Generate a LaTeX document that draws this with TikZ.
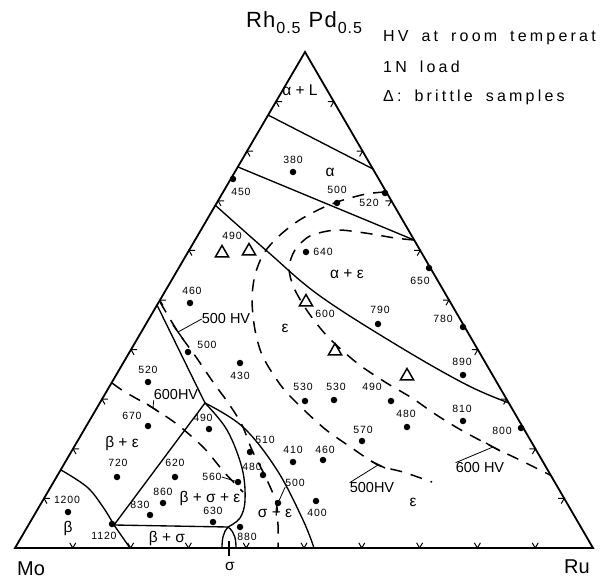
\documentclass[tikz,border=0pt]{standalone}
\usepackage{fontspec}
\setmainfont{Liberation Sans}
\newfontfamily\legendfont[LetterSpace=20, WordSpace=1.7]{Liberation Sans}
\newfontfamily\numfont[LetterSpace=8]{Liberation Sans}
\newfontfamily\cornerfont[LetterSpace=6]{Liberation Sans}
\usetikzlibrary{calc}
\usetikzlibrary{shapes.geometric}

\begin{document}
\begin{tikzpicture}[x=1pt, y=-1pt,
    corner/.style={font=\fontsize{20}{20}\selectfont, inner sep=0pt},
    legend/.style={font=\legendfont\fontsize{16}{16}\selectfont, inner sep=0pt, anchor=west},
    phase/.style={font=\fontsize{15.5}{15.5}\selectfont, inner sep=0pt},
    hv/.style={font=\numfont\fontsize{10.5}{10.5}\selectfont, inner sep=0pt},
    hvlabel/.style={font=\fontsize{14.5}{14.5}\selectfont, inner sep=0pt},
    pt/.style={circle, fill, inner sep=0pt, minimum size=6.5pt},
    brittle/.style={draw, regular polygon, regular polygon sides=3, inner sep=0pt, minimum size=15pt, line width=1.5pt},
    bound/.style={line width=1.35pt},
    iso/.style={line width=1.5pt, dash pattern=on 12pt off 9pt},
    tickmark/.style={line width=1pt}]
    \useasboundingbox (0,0) rectangle (607,580);

    \coordinate (Mo) at (15,548);
    \coordinate (Ru) at (593,548);
    \coordinate (RP) at (305,52);
    \draw[line width=1.8pt] (Mo) -- (Ru) -- (RP) -- cycle;
    \foreach \i in {1,...,9} {
        \coordinate (tb) at ($(Mo)!\i/10!(Ru)$);
        \coordinate (tl) at ($(Mo)!\i/10!(RP)$);
        \coordinate (tr) at ($(Ru)!\i/10!(RP)$);
        \draw[tickmark] (tb) ++(-120:6) -- (tb) -- ++(-60:6);
        \draw[tickmark] (tl) ++(0:6) -- (tl) -- ++(60:6);
        \draw[tickmark] (tr) ++(180:6) -- (tr) -- ++(120:6);
    }

    \node[corner] (mo) at (31,569) {Mo};
    \node[corner] (ru) at (577,567) {Ru};
    \node[corner, font=\cornerfont\fontsize{22}{22}\selectfont] (rp) at (304,23)
        {Rh\hspace{1pt}\raisebox{-6pt}{\fontsize{16}{16}\selectfont 0.5}\hspace{8pt}Pd\hspace{1pt}\raisebox{-6pt}{\fontsize{16}{16}\selectfont 0.5}};

    \node[legend] (leg1) at (383,38) {HV at room temperat};
    \node[legend] (leg2) at (383,67) {1N load};
    \node[legend] (leg3) at (383,97) {Δ: brittle samples};

    % phase boundaries
    \draw[bound] (268,115) -- (373,169);
    \draw[bound] (238,167) -- (414,240);
    \draw[bound] plot[smooth, tension=0.6] coordinates {(215,205) (268,252) (320,296) (400,347) (467,385) (509,403)};
    \coordinate (tp) at (205,403);
    \coordinate (bl) at (114,525);
    \coordinate (br) at (228,527);
    \draw[bound] (157,305) -- (tp) -- (bl) -- (br);
    \draw[bound] plot[smooth, tension=0.6] coordinates {(tp) (227,430) (242,468) (245,500) (240,518) (br)};
    \draw[bound] plot[smooth, tension=0.6] coordinates {(tp) (243,427) (277,470) (303,520) (314,548)};
    \draw[bound] plot[smooth, tension=0.6] coordinates {(61,470) (87,487) (103,507) (bl)};
    \draw[bound] (bl) -- (130,548);
    \draw[bound] (br) .. controls (223,532) and (222,540) .. (222,548);
    \draw[bound] (br) .. controls (235,532) and (236,540) .. (236,548);
    \draw[bound] (229,541) -- (229,556);

    % iso-hardness lines
    \draw[iso] plot[smooth] coordinates {(160,302) (178,332) (196,357) (213,382) (229,404) (242,425) (252,450) (266,478) (276,502) (278,525) (278,548)};
    \draw[iso] plot[smooth] coordinates {(112,383) (125,392) (153,408) (178,425) (204,448) (224,472) (243,492)};
    \draw[iso] plot[smooth] coordinates {(385,192) (366,194) (340,201) (320,209) (298,221) (279,236) (264,253) (255,275) (252,300) (255,330) (263,357) (282,387) (302,408) (325,429) (349,446) (378,465) (403,472) (432,482)};
    \draw[iso] plot[smooth] coordinates {(414,240) (395,238) (365,233) (336,230) (310,236) (295,250) (289,268) (294,288) (308,312) (328,337) (357,363) (385,382) (412,398) (435,414) (461,430) (493,447) (524,462) (550,475)};

    \node[hvlabel] (hvA) at (226,319) {500 HV};
    \node[hvlabel] (hvB) at (176,395) {600HV};
    \node[hvlabel] (hvC) at (372,488) {500HV};
    \node[hvlabel] (hvD) at (480,468) {600 HV};
    \coordinate (kA) at (178,332);
    \coordinate (kB) at (153,408);
    \coordinate (kC) at (378,465);
    \coordinate (kD) at (493,447);
    \draw[bound] (173,325) -- (183,339);
    \draw[bound] (147,404) -- (159,412);
    \draw[bound] (371,461) -- (385,468);
    \draw[bound] (486,443) -- (500,451);
    \draw[line width=0.8pt] (kA) -- (hvA.west);
    \draw[line width=0.8pt] (kB) -- (hvB.south west);
    \draw[line width=0.8pt] (kC) -- (hvC.north west);
    \draw[line width=0.8pt] (kD) -- (hvD.north west);

    % measured points
    \foreach \dx/\dy/\lx/\ly/\v [count=\k] in {293/172/293/160/380, 233/179/241/192/450,
        337/203/337/190/500, 385/193/369/203/520, 306/252/323/252/640, 429/268/420/281/650,
        190/303/192/291/460, 378/324/380/310/790, 463/327/443/319/780, 188/352/207/345/500,
        240/363/240/376/430, 463/375/462/362/890, 148/382/148/370/520, 305/401/303/387/530,
        334/400/336/387/530, 391/401/372/387/490, 148/426/132/416/670, 209/429/203/418/490,
        463/421/462/409/810, 407/427/406/414/480, 521/428/502/431/800, 362/441/363/430/570,
        293/462/293/450/410, 323/460/325/450/460, 250/452/265/440/510, 117/477/118/463/720,
        175/477/175/463/620, 263/475/252/467/480, 238/482/212/477/560, 278/503/295/483/500,
        316/501/317/513/400, 163/503/163/492/860, 68/512/67/500/1200, 150/515/140/505/830,
        213/522/213/511/630, 112/524/104/536/1120, 240/527/247/537/880} {
        \node[pt] (p\k) at (\dx,\dy) {};
        \node[hv] (l\k) at (\lx,\ly) {\v};
    }
    \draw[line width=0.8pt] (l29.east) -- (p29);
    \draw[line width=0.8pt] (l30.south west) -- (p30);

    \node[hv] (l490) at (232,236) {490};
    \node[hv] (l600) at (325,314) {600};
    \foreach \tx/\ty in {222/253, 249/251, 306/302, 335/351, 407/376}
        \node[brittle] at (\tx,\ty) {};

    \node[phase] at (300,90) {α + L};
    \node[phase] at (330,172) {α};
    \node[phase] at (347,274) {α + ε};
    \node[phase] at (285,328) {ε};
    \node[phase] at (413,502) {ε};
    \node[phase] at (122,443) {β + ε};
    \node[phase] at (210,498) {β + σ + ε};
    \node[phase] at (275,513) {σ + ε};
    \node[phase] at (68,528) {β};
    \node[phase] at (167,538) {β + σ};
    \node[phase] at (230,566) {σ};
\end{tikzpicture}
\end{document}
